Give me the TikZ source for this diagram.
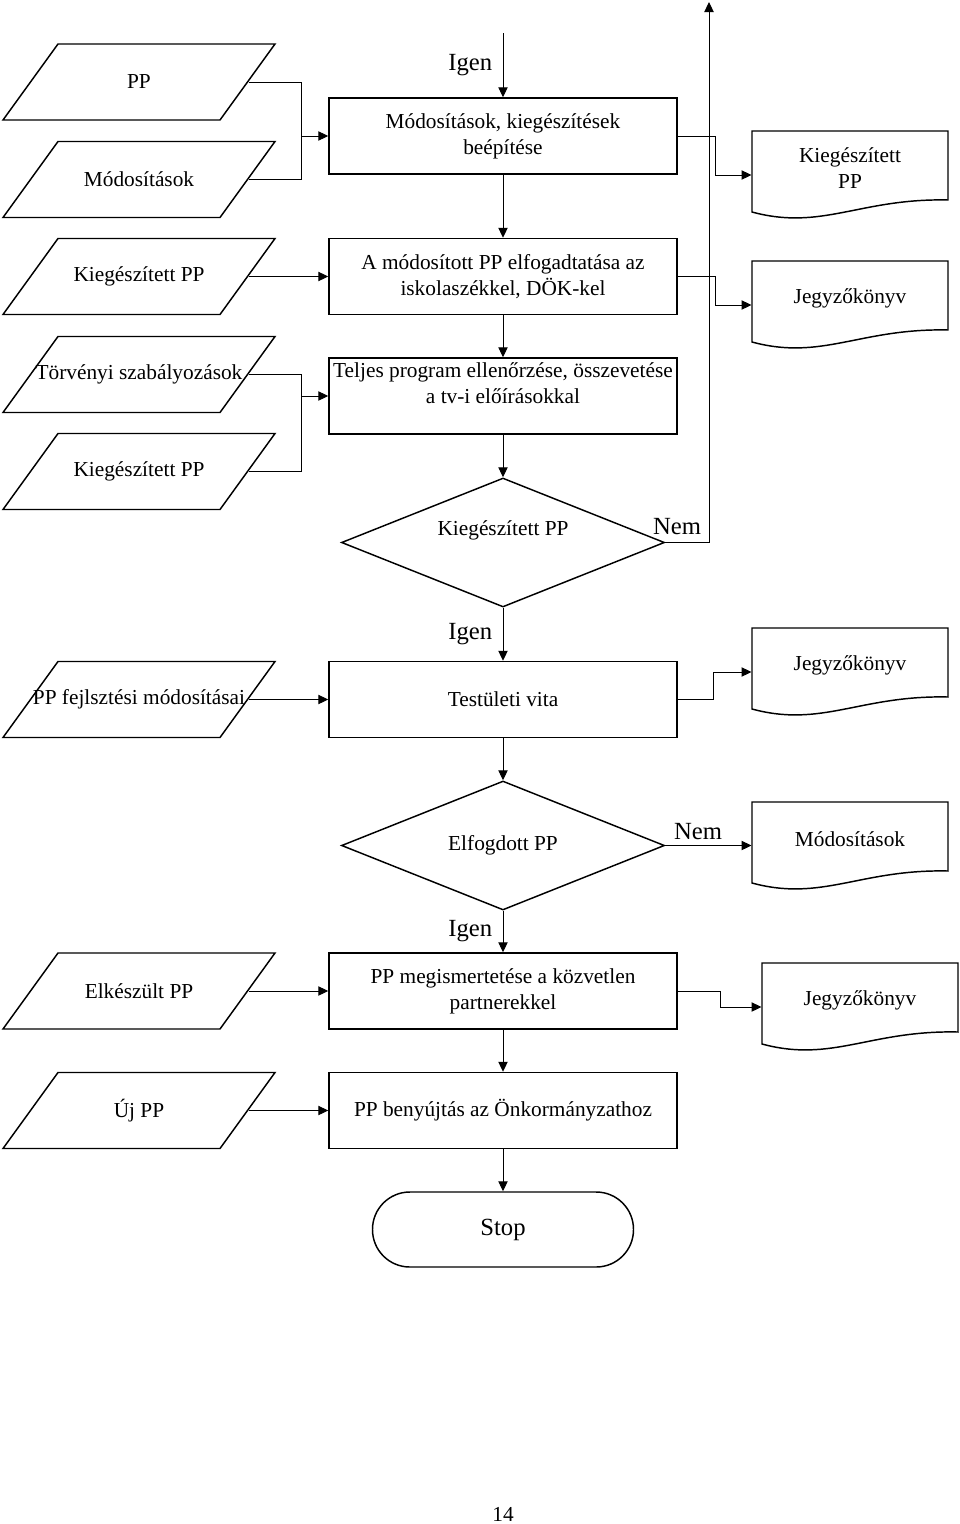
\documentclass[tikz,border=0pt]{standalone}
\usepackage{fontspec}
\setmainfont{Liberation Serif}
\usetikzlibrary{shapes.geometric,arrows.meta,calc}

\tikzset{every picture/.style={line width=0.75pt}}
\tikzset{
  box/.style={draw, line width=1.1pt, minimum width=261pt, minimum height=57pt, align=center, inner sep=0.75pt, font=\fontsize{16}{19.5}\selectfont},
  datain/.style={minimum width=163.5pt, minimum height=57pt, align=center, inner sep=0pt, font=\fontsize{16}{19.5}\selectfont},
  docout/.style={minimum width=147pt, align=center, inner sep=0.75pt, font=\fontsize{16}{19.5}\selectfont},
  decision/.style={draw, diamond, aspect=2.5, line width=1.1pt, minimum width=242.25pt, minimum height=96.75pt, inner sep=0.75pt, font=\fontsize{16}{19.5}\selectfont},
  terminal/.style={draw, line width=1.1pt, rounded corners=28pt, minimum width=195.75pt, minimum height=56.25pt, font=\fontsize{18.5}{22}\selectfont},
  lbl/.style={inner sep=0.75pt, font=\fontsize{18.5}{22}\selectfont},
  arr/.style={-{Triangle[length=7.5pt,width=7pt]}},
  outline/.style={line width=1.1pt},
}

\begin{document}
\begin{tikzpicture}[x=0.75pt,y=0.75pt,yscale=-1,xscale=1]
\useasboundingbox (0,0) rectangle (960,1524);

%Inputs: parallelograms on the left
\foreach \cy/\nm/\txt in {82/inPP/PP, 179.5/inMod/Módosítások, 276.5/inKieg/Kiegészített PP, 374.5/inTorv/Törvényi szabályozások, 471.5/inKiegb/Kiegészített PP, 699.5/inFejl/PP fejlsztési módosításai, 991/inElk/Elkészült PP, 1110.5/inUj/Új PP}{
  \draw[outline] (58,\cy-38) -- (275,\cy-38) -- (220,\cy+38) -- (3,\cy+38) -- cycle ;
  \node[datain] (\nm) at (139,\cy) {\txt};
}

%Outputs: documents on the right
\foreach \lx/\ty/\nm/\txt in {752/131/dKieg/{Kiegészített\\PP}, 752/261/dJk/Jegyzőkönyv, 752/628/dJkb/Jegyzőkönyv, 752/802/dMod/Módosítások, 762/963/dJkc/Jegyzőkönyv}{
  \draw[outline] (\lx,\ty) -- (\lx+196,\ty) -- (\lx+196,\ty+69) .. controls (\lx+108,\ty+67) and (\lx+70,\ty+100) .. (\lx,\ty+81) -- cycle ;
  \node[docout] (\nm) at (\lx+98,\ty+37) {\txt};
}

%Process steps
\node[box] (bBeep) at (503,136) {Módosítások, kiegészítések\\beépítése};
\node[box] (bElfog) at (503,276.5) {A módosított PP elfogadtatása az\\iskolaszékkel, DÖK-kel};
\node[box, text depth=20pt] (bEllen) at (503,396) {Teljes program ellenőrzése, összevetése\\a tv-i előírásokkal};
\node[decision, text depth=21pt] (qKieg) at (503,542.5) {Kiegészített PP};
\node[box] (bVita) at (503,699.5) {Testületi vita};
\node[decision] (qElf) at (503,845.5) {Elfogdott PP};
\node[box] (bMegism) at (503,991) {PP megismertetése a közvetlen\\partnerekkel};
\node[box] (bBeny) at (503,1110.5) {PP benyújtás az Önkormányzathoz};
\node[terminal] (stop) at (503,1229.5) {Stop};

%Main flow
\coordinate (topIn) at (503,33);
\coordinate (topOut) at (709,2);
\draw[arr] (topIn) -- node[lbl, left=7pt] (igenA) {Igen} (bBeep);
\draw[arr] (bBeep) -- (bElfog);
\draw[arr] (bElfog) -- (bEllen);
\draw[arr] (bEllen) -- (qKieg);
\draw[arr] (qKieg) -- node[lbl, left=7pt] (igenB) {Igen} (bVita);
\draw[arr] (bVita) -- (qElf);
\draw[arr] (qElf) -- node[lbl, left=7pt] (igenC) {Igen} (bMegism);
\draw[arr] (bMegism) -- (bBeny);
\draw[arr] (bBeny) -- (stop);

%Nem branches
\draw[arr] (qKieg.east) -| (topOut);
\node[lbl] (nemA) at (677,527) {Nem};
\draw[arr] (qElf.east) -- node[lbl, pos=0.38, above=3.5pt] (nemB) {Nem} (qElf.east -| dMod.west);

%Inputs into steps
\coordinate (jA) at ($(bBeep.west)+(-27,0)$);
\draw (inPP.east) -| (jA) |- (inMod.east);
\draw[arr] (jA) -- (bBeep.west);
\draw[arr] (inKieg.east) -- (bElfog.west);
\coordinate (jB) at ($(bEllen.west)+(-27,0)$);
\draw (inTorv.east) -| (jB) |- (inKiegb.east);
\draw[arr] (jB) -- (bEllen.west);
\draw[arr] (inFejl.east) -- (bVita.west);
\draw[arr] (inElk.east) -- (bMegism.west);
\draw[arr] (inUj.east) -- (bBeny.west);

%Steps into documents
\draw[arr] (bBeep.east) -- ++(38,0) |- ($(dKieg.west)+(0,7)$);
\draw[arr] (bElfog.east) -- ++(38,0) |- ($(dJk.west)+(0,7)$);
\draw[arr] (bVita.east) -- ++(36,0) |- ($(dJkb.west)+(0,7)$);
\draw[arr] (bMegism.east) -- ++(43,0) |- ($(dJkc.west)+(0,7)$);

% Page number
\node[font=\fontsize{16}{19}\selectfont] (pgnum) at (503,1514) {14};

\end{tikzpicture}
\end{document}
